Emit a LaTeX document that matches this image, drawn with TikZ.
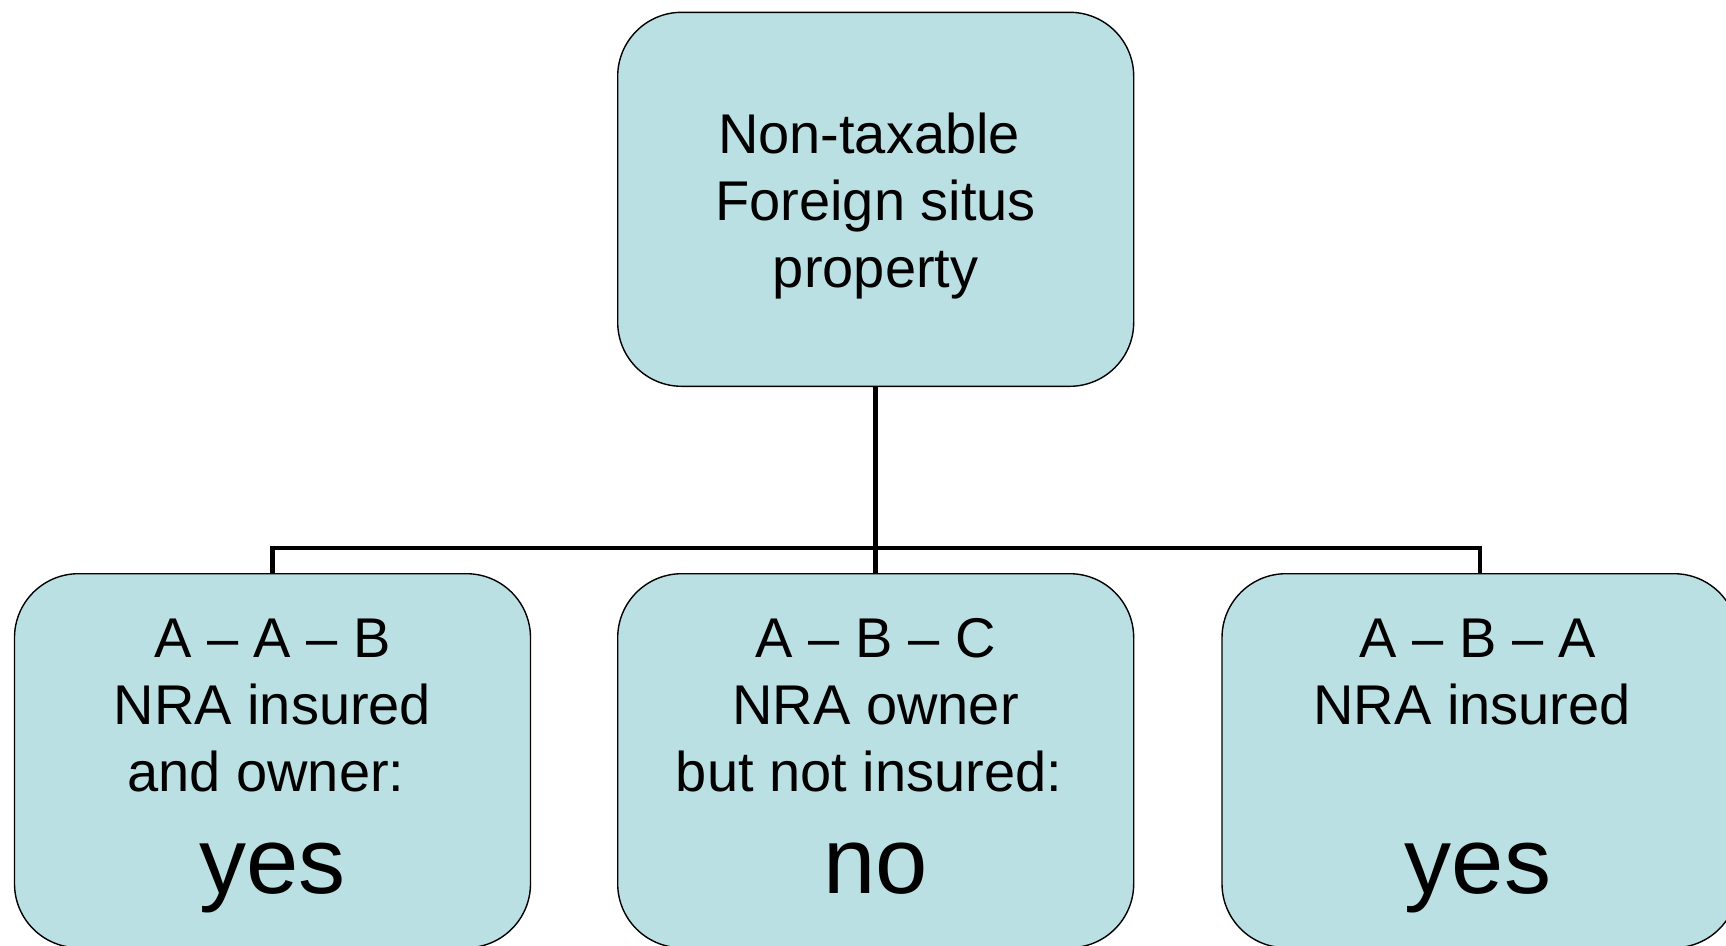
\documentclass[tikz,border=0pt]{standalone}
\usepackage{fontspec}
\setmainfont{Liberation Sans}
\definecolor{boxfill}{RGB}{187,224,227}
\begin{document}
\begin{tikzpicture}[x=1pt,y=-1pt,
  box/.style={draw=black,line width=1.4pt,fill=boxfill,rounded corners=64pt,
    minimum width=516pt,minimum height=374pt,inner sep=0pt,outer sep=0pt},
  txt/.style={anchor=base,inner sep=0pt,font=\fontsize{56}{67}\selectfont},
  big/.style={anchor=base,inner sep=0pt,font=\fontsize{94}{110}\selectfont},
  conn/.style={line width=4.8pt}]
\useasboundingbox (0,0) rectangle (1726,945);
\clip (0,0) rectangle (1726,945);
% boxes
\node[box] (top) at (875.7,199.3) {};
\node[box] (left) at (272.5,760.7) {};
\node[box] (mid) at (875.7,760.7) {};
\node[box] (right) at (1480,760.7) {};
% connectors
\coordinate (hub) at (875.7,548);
\draw[conn] (top.south) -- (hub);
\draw[conn] (hub) -- (mid.north);
\draw[conn] (hub) -| (left.north);
\draw[conn] (hub) -| (right.north);
% top text
\node[txt] (t1) at (869,153) {Non-taxable};
\node[txt] (t2) at (875.7,220) {Foreign situs};
\node[txt] (t3) at (875.7,287) {property};
% left text
\node[txt] (l1) at (272.5,657) {A – A – B};
\node[txt] (l2) at (272.5,724) {NRA insured};
\node[txt] (l3) at (266,791) {and owner:};
\node[big] (l4) at (272.5,893) {yes};
% middle text
\node[txt] (m1) at (875.7,657) {A – B – C};
\node[txt] (m2) at (875.7,724) {NRA owner};
\node[txt] (m3) at (869,791) {but not insured:};
\node[big] (m4) at (875.7,893) {no};
% right text
\node[txt] (r1) at (1478,657) {A – B – A};
\node[txt] (r2) at (1472,724) {NRA insured};
\node[big] (r4) at (1478,893) {yes};
\end{tikzpicture}
\end{document}
